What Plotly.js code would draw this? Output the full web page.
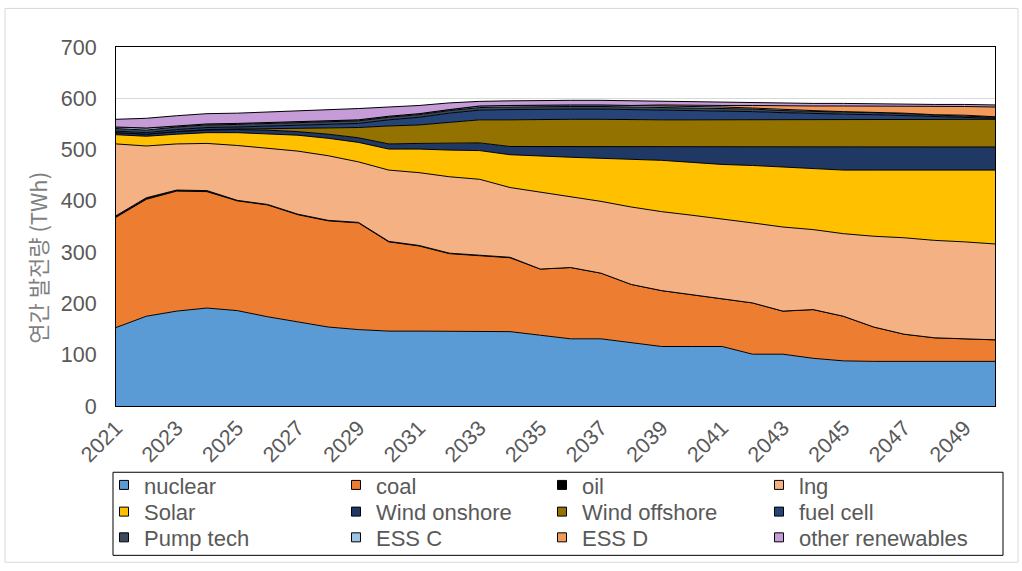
<!DOCTYPE html>
<html>
<head>
<meta charset="utf-8">
<script src="https://cdn.plot.ly/plotly-3.0.1.min.js"></script>
<style>
  html, body { margin: 0; padding: 0; background: #ffffff; }
  #chart { width: 1022px; height: 571px; }
</style>
</head>
<body>
<div id="chart"></div>
<script>
// Annual generation by source, TWh
const years = [2021, 2022, 2023, 2024, 2025, 2026, 2027, 2028, 2029, 2030,
               2031, 2032, 2033, 2034, 2035, 2036, 2037, 2038, 2039, 2040,
               2041, 2042, 2043, 2044, 2045, 2046, 2047, 2048, 2049, 2050];

const nuclear = [153, 175, 185, 191, 186, 174, 164, 154, 149, 146,
                 146, 146, 145, 145, 138, 131, 131, 124, 116, 116,
                 116, 101, 101, 93, 88, 87, 87, 87, 87, 87];
const coal = [215, 228, 234, 227, 214, 218, 209, 207, 208, 174,
              166, 151, 148, 144, 129, 139, 128, 113, 109, 101,
              94, 100, 84, 95, 87, 67, 53, 46, 44, 42];
const oil = [3, 3, 2, 2, 1, 1, 1, 1, 1, 1,
             1, 1, 1, 1, 0, 0, 0, 0, 0, 0,
             0, 0, 0, 0, 0, 0, 0, 0, 0, 0];
const lng = [140, 101, 90, 92, 107, 110, 123, 126, 118, 139,
             142, 149, 148, 136, 150, 137, 140, 151, 154, 155,
             155, 156, 164, 156, 161, 177, 188, 190, 189, 187];
const solar = [18, 19, 19, 21, 25, 28, 31, 34, 38, 41,
               46, 52, 56, 64, 70, 78, 84, 93, 100, 103,
               106, 112, 117, 119, 124, 129, 132, 137, 140, 144];
const windOnshore = [4, 4, 5, 5, 6, 7, 7, 8, 9, 10,
                     11, 13, 15, 16, 19, 21, 23, 25, 27, 30,
                     34, 36, 39, 42, 45, 45, 45, 45, 45, 45];
const windOffshore = [0, 0, 0, 1, 1, 3, 7, 12, 20, 35,
                      36, 41, 45, 52, 53, 53, 53, 52, 52, 53,
                      53, 53, 53, 53, 53, 53, 53, 53, 54, 54];
const fuelCell = [3, 3, 4, 4, 4, 5, 5, 7, 8, 12,
                  15, 18, 19, 20, 20, 20, 20, 20, 20, 19,
                  18, 16, 14, 12, 11, 10, 8, 6, 4, 2];
const pumpTech = [5, 5, 5, 5, 5, 5, 5, 5, 5, 5,
                  5, 5, 5, 5, 5, 5, 5, 5, 5, 5,
                  5, 5, 4, 4, 4, 4, 4, 3, 3, 2];
const essC = [3, 4, 2, 2, 2, 2, 2, 2, 2, 2,
              2, 2, 3, 3, 3, 3, 3, 3, 3, 2,
              2, 2, 2, 2, 1, 1, 1, 1, 1, 1];
const essD = [0, 0, 0, 0, 0, 0, 0, 0, 0, 0,
              0, 0, 0, 0, 0, 0, 0, 0, 1, 2,
              3, 5, 7, 9, 11, 12, 14, 16, 17, 19];
const otherRenewables = [15, 19, 20, 20, 20, 20, 21, 22, 22, 18,
                         16, 13, 9, 9, 9, 9, 9, 9, 7, 7,
                         6, 5, 6, 5, 5, 4, 4, 4, 4, 4];

const seriesNames = ['nuclear', 'coal', 'oil', 'lng', 'Solar', 'Wind onshore',
                     'Wind offshore', 'fuel cell', 'Pump tech', 'ESS C', 'ESS D',
                     'other renewables'];
const seriesValues = [nuclear, coal, oil, lng, solar, windOnshore, windOffshore,
                      fuelCell, pumpTech, essC, essD, otherRenewables];
const seriesColors = ['#5B9BD5', '#ED7D31', '#000000', '#F4B183', '#FFC000', '#1F3864',
                      '#947200', '#264478', '#3B4A5E', '#9DC3E6', '#F29A5A', '#C59BD8'];

const yTicks = [0, 100, 200, 300, 400, 500, 600, 700];
const xTicks = years.filter((y, i) => i % 2 === 0);
const yTitle = '연간 발전량 (TWh)';

// plot-area frame in pixels, for placing paper-referenced items
const PL = 116, PR = 995, PT = 47, PB = 410;
const toPX = x => (x - PL) / (PR - PL);
const toPY = y => (PB - y) / (PB - PT);

const gray = '#595959';
const baseFont = 'Liberation Sans, Arial, sans-serif';

const traces = seriesValues.map((vals, i) => ({
  x: years,
  y: vals,
  type: 'scatter',
  mode: 'lines',
  stackgroup: 'gen',
  fill: 'tonexty',
  fillcolor: seriesColors[i],
  line: { color: '#000000', width: 1 },
  name: seriesNames[i],
  showlegend: false
}));

// legend swatches: one single-entry legend per grid cell (4 columns x 3 rows)
const legendColX = [104, 336, 542, 759];
const legendRowY = [490, 517, 543];
const layoutLegends = {};
seriesNames.forEach((name, i) => {
  const key = i === 0 ? 'legend' : 'legend' + (i + 1);
  traces.push({
    x: [null], y: [null],
    type: 'scatter', mode: 'markers',
    marker: { symbol: 'square', size: 9, color: seriesColors[i], line: { color: '#000000', width: 1 } },
    name: name,
    legend: key,
    showlegend: true,
    hoverinfo: 'skip'
  });
  layoutLegends[key] = {
    x: toPX(legendColX[i % 4]),
    y: toPY(legendRowY[Math.floor(i / 4)]),
    xanchor: 'left', yanchor: 'middle',
    bgcolor: 'rgba(0,0,0,0)', borderwidth: 0,
    font: { family: baseFont, size: 22, color: gray },
    itemclick: false, itemdoubleclick: false
  };
});

const layout = Object.assign({
  width: 1022,
  height: 571,
  margin: { l: PL, r: 1022 - PR, t: PT, b: 571 - PB, pad: 0 },
  paper_bgcolor: '#ffffff',
  plot_bgcolor: '#ffffff',
  font: { family: baseFont, size: 21, color: gray },
  xaxis: {
    type: 'linear',
    range: [years[0], years[years.length - 1]],
    tickvals: xTicks,
    ticktext: xTicks.map(String),
    tickangle: -45,
    ticks: '',
    showgrid: false,
    zeroline: false,
    showline: true, mirror: true, linecolor: '#000000', linewidth: 1,
    tickfont: { family: baseFont, size: 21.5, color: gray }
  },
  yaxis: {
    range: [0, 700],
    tickvals: yTicks,
    ticks: '',
    showgrid: true, gridcolor: '#D9D9D9', gridwidth: 1,
    zeroline: false,
    showline: true, mirror: true, linecolor: '#000000', linewidth: 1,
    ticklabelstandoff: 14,
    tickfont: { family: baseFont, size: 21.5, color: gray }
  },
  annotations: [{
    text: yTitle,
    xref: 'paper', yref: 'paper',
    x: toPX(37), y: toPY(260),
    xanchor: 'center', yanchor: 'middle',
    textangle: -90,
    showarrow: false,
    font: { family: 'Noto Sans CJK KR, sans-serif', size: 22, color: '#7F7F7F' }
  }],
  shapes: [
    { type: 'rect', xref: 'paper', yref: 'paper',
      x0: toPX(113), x1: toPX(1003), y0: toPY(477), y1: toPY(561),
      line: { color: '#000000', width: 1 }, fillcolor: 'rgba(0,0,0,0)', layer: 'below' },
    { type: 'rect', xref: 'paper', yref: 'paper',
      x0: toPX(5), x1: toPX(1018), y0: toPY(8), y1: toPY(568),
      line: { color: '#D9D9D9', width: 1 }, fillcolor: 'rgba(0,0,0,0)', layer: 'below' }
  ],
  hovermode: false
}, layoutLegends);

Plotly.newPlot('chart', traces, layout, { displayModeBar: false, staticPlot: true });
</script>
</body>
</html>
